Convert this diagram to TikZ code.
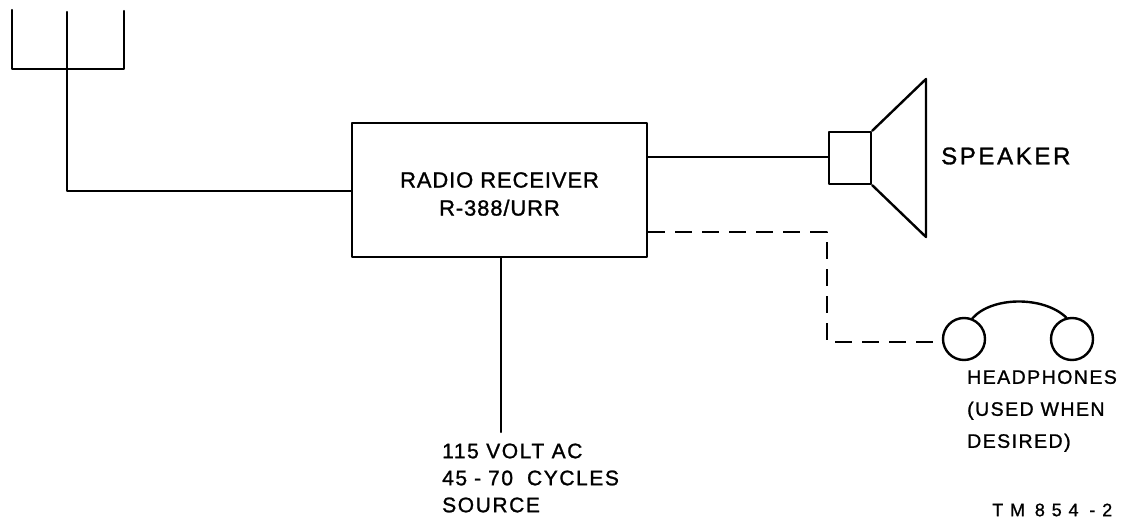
\documentclass[tikz,border=0pt]{standalone}
\usepackage{fontspec}
\setmainfont{Liberation Sans}[LetterSpace=4,FakeBold=1.2]
\newfontfamily\spkfont{Liberation Sans}[LetterSpace=11,FakeBold=1.3]
\newfontfamily\hpfont{Liberation Sans}[LetterSpace=7.5,FakeBold=1.1]
\newfontfamily\srcfont{Liberation Sans}[LetterSpace=7.5,FakeBold=1.2]
\newfontfamily\tmfont{Liberation Sans}[LetterSpace=38,FakeBold=0.9]
\begin{document}
\begin{tikzpicture}[x=1pt,y=-1pt,
  wire/.style={line width=2.4pt,line cap=round,line join=round},
  dwire/.style={wire,line cap=butt,dash pattern=on 17pt off 10pt},
  lbl/.style={anchor=west,inner sep=0pt,align=left},
  every node/.style={inner sep=0pt}]
\useasboundingbox (0,0) rectangle (1126,526);
% antenna
\coordinate (a1) at (12,10);
\coordinate (a2) at (67,12);
\coordinate (a3) at (124,11);
\coordinate (ab) at (12,69);
\coordinate (ac) at (67,69);
\coordinate (ad) at (124,69);
\coordinate (ae) at (67,191);
% receiver
\node[draw,wire,minimum width=295pt,minimum height=134pt] (rx) at (499.5,190) {};
\node[font=\fontsize{22}{28}\selectfont,align=center] (rxt) at ([yshift=-4pt]rx.center)
      {RADIO RECEIVER\\R-388/URR};
\draw[wire] (a1) -- (ab) -- (ad) -- (a3);
\draw[wire] (a2) -- (ac) -- (ae) -- (ae -| rx.west);
% speaker
\node[draw,wire,minimum width=42pt,minimum height=52pt] (vc) at (850,158) {};
\coordinate (ct) at (926,79);
\coordinate (cb) at (926,237);
\draw[wire] (vc.north east) -- (ct) -- (cb) -- (vc.south east);
\draw[wire] ([yshift=33pt]rx.east) -- (vc.west |- 0,157);
\node[lbl,font=\spkfont\fontsize{24}{28}\selectfont] (spk) at (941,156) {SPEAKER};
% headphones
\node[draw,wire,circle,minimum size=42pt] (hl) at (964,339) {};
\node[draw,wire,circle,minimum size=42pt] (hr) at (1072,339) {};
\draw[wire] (hl.68) .. controls (992,296) and (1044,296) .. (hr.105);
\coordinate (d1) at (827,232);
\coordinate (d2) at (827,342);
\draw[dwire] ([yshift=-42pt]rx.east) -- (d1) -- (d2) -- (d2 -| hl.west);
\node[lbl,font=\hpfont\fontsize{19.5}{32}\selectfont] (hp) at (967,411) {HEADPHONES\\(USED WHEN\\DESIRED)};
% power
\coordinate (pw) at (501,432);
\draw[wire] (rx.south -| pw) -- (pw);
\node[lbl,font=\srcfont\fontsize{21}{27}\selectfont] (src) at (442,478)
  {115 VOLT AC\\45\hspace{7pt}-\hspace{7pt}70\hspace{14pt}CYCLES\\SOURCE};
% figure id
\node[lbl,font=\tmfont\fontsize{18}{20}\selectfont] (tm) at (992,510) {TM\hspace{-2pt} 854\hspace{-1pt} -2};
\end{tikzpicture}
\end{document}
